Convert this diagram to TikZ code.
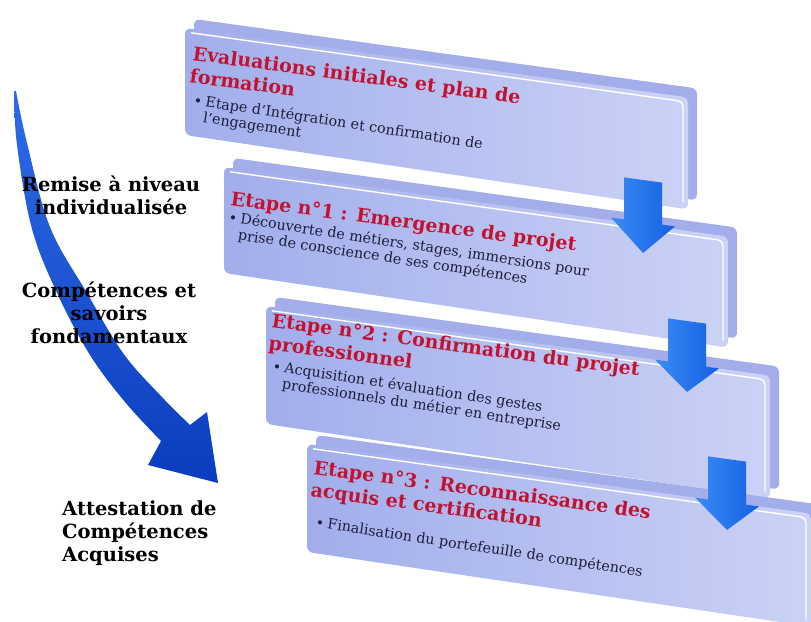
\documentclass[tikz,border=0pt]{standalone}
\usepackage{fontspec}
\setmainfont{DejaVu Serif}
\usetikzlibrary{calc}
\definecolor{slab}{HTML}{A2ADEA}
\definecolor{faceL}{HTML}{A1AEEB}
\definecolor{faceR}{HTML}{CBD2F6}
\definecolor{ttl}{HTML}{C3122F}
\definecolor{bodyc}{HTML}{1E1E3C}
\definecolor{arrL}{HTML}{3A8BF6}
\definecolor{arrR}{HTML}{1560E2}
\definecolor{bigT}{HTML}{2F6BE6}
\definecolor{bigB}{HTML}{0A3DBE}
\newcommand\stepbox[4]{%
  \pgfmathsetmacro\xr{#1+#4}%
  \pgfmathsetmacro\dy{0.138*#4}%
  \fill[slab, rounded corners=6pt] (#1+9,#2-9) -- (\xr+9,#2-9+\dy) -- (\xr+9,#2+#3-9+\dy+5) -- (#1+9,#2+#3-9) -- cycle;
  \shade[left color=faceL, right color=faceR, rounded corners=6pt] (#1,#2) -- (\xr,#2+\dy) -- (\xr,#2+#3+\dy+5) -- (#1,#2+#3) -- cycle;
  \draw[white, line width=1.4pt, rounded corners=5pt] (#1+6,#2+4.8) -- (\xr-5,#2+\dy+4) -- (\xr-5,#2+#3+\dy-2);
}
\newcommand\procarrow[4]{%
  \shade[left color=arrL, right color=arrR] (#1-19,#2-2.6) -- (#1+19,#2+2.6) -- (#1+19,#3+2.6) -- (#1+32,#3+4.4) -- (#1,#4) -- (#1-32,#3-4.4) -- (#1-19,#3-2.6) -- cycle;
}
\begin{document}
\begin{tikzpicture}[x=1pt,y=-1pt,
  ttlnode/.style={rotate=-7.6, anchor=base west, inner sep=0pt, text=ttl, font=\fontsize{19}{22.5}\selectfont\bfseries},
  bodynode/.style={rotate=-8.6, anchor=base west, inner sep=0pt, text=bodyc, font=\fontsize{14.3}{15.8}\selectfont},
  lbl/.style={anchor=base, inner sep=0pt, text=black, font=\fontsize{19.5}{23}\selectfont\bfseries}]
\useasboundingbox (0,0) rectangle (811,621);
\clip (0,0) rectangle (811,621);
% big curved arrow
\shade[top color=bigT, bottom color=bigB] plot[smooth, tension=0.6] coordinates {(16,91) (27,143) (50,227) (87,293) (123,353) (160,395) (190,425)} -- (207,412) -- (218,483) -- (148,465) -- plot[smooth, tension=0.6] coordinates {(161,441) (125,402) (90,355) (58,295) (32,229) (17,145) (14,91)} -- cycle;
% labels
\node[lbl] (l1) at (111,191) {\begin{tabular}[t]{@{}c@{}}Remise à niveau\\individualisée\end{tabular}};
\node[lbl] (l2) at (109,297) {\begin{tabular}[t]{@{}c@{}}Compétences et\\savoirs\\fondamentaux\end{tabular}};
\node[lbl, anchor=base west] (l3) at (62,515) {\begin{tabular}[t]{@{}l@{}}Attestation de\\Compétences\\Acquises\end{tabular}};
% boxes
\stepbox{185}{28}{107}{503}
\node[ttlnode] (t1) at (192,60) {\begin{tabular}[t]{@{}l@{}}Evaluations initiales et plan de\\formation\end{tabular}};
\node[bodynode] (b1) at (193,105) {\begin{tabular}[t]{@{}l@{\hspace{3.5pt}}l@{}}•&Etape d’Intégration et confirmation de\\&l’engagement\end{tabular}};
\stepbox{224}{167}{106}{504}
\node[ttlnode] (t2) at (230,205) {Etape n°1 : Emergence de projet};
\node[bodynode] (b2) at (228,222) {\begin{tabular}[t]{@{}l@{\hspace{3.5pt}}l@{}}•&Découverte de métiers, stages, immersions pour\\&prise de conscience de ses compétences\end{tabular}};
\stepbox{266}{306}{118}{504}
\node[ttlnode] (t3) at (271,327) {\begin{tabular}[t]{@{}l@{}}Etape n°2 : Confirmation du projet\\professionnel\end{tabular}};
\node[bodynode] (b3) at (272,371) {\begin{tabular}[t]{@{}l@{\hspace{3.5pt}}l@{}}•&Acquisition et évaluation des gestes\\&professionnels du métier en entreprise\end{tabular}};
\stepbox{307}{444}{108}{504}
\node[ttlnode] (t4) at (313,474) {\begin{tabular}[t]{@{}l@{}}Etape n°3 : Reconnaissance des\\acquis et certification\end{tabular}};
\node[bodynode] (b4) at (315,527) {\begin{tabular}[t]{@{}l@{\hspace{3.5pt}}l@{}}•&Finalisation du portefeuille de compétences\end{tabular}};
% process arrows
\procarrow{643}{180}{222}{253}
\procarrow{687}{321}{364}{392}
\procarrow{727}{459}{502}{530}
\end{tikzpicture}
\end{document}
